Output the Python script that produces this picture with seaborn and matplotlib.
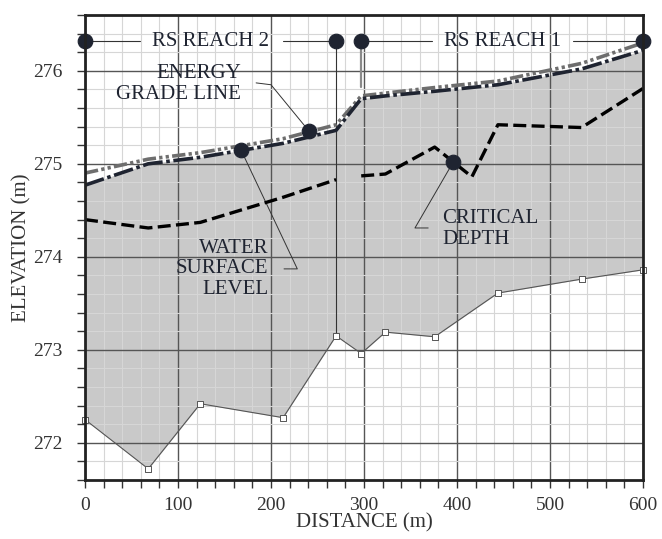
import seaborn as sns
import matplotlib.pyplot as plt
import pandas as pd
import numpy as np
from matplotlib.ticker import MultipleLocator

# cross-section stations (m) and elevations (m)
station = [0, 68, 124, 213, 270, 297, 323, 376, 444, 534, 600]
bed_elev = [272.25, 271.72, 272.42, 272.27, 273.15, 272.96, 273.19, 273.14, 273.61, 273.76, 273.86]
ws_elev = [274.77, 275.00, 275.07, 275.22, 275.36, 275.70, 275.73, 275.78, 275.85, 276.02, 276.22]
egl_elev = [274.90, 275.05, 275.12, 275.27, 275.42, 275.73, 275.76, 275.82, 275.89, 276.08, 276.30]

# critical depth is broken at the junction between the two reaches
cd_station = [0, 68, 124, 213, 270, 297, 323, 376, 416, 444, 534, 600]
cd_elev = [274.40, 274.31, 274.37, 274.64, 274.83, 274.87, 274.89, 275.18, 274.86, 275.42, 275.39, 275.81]
cd_reach = [2, 2, 2, 2, 2, 1, 1, 1, 1, 1, 1, 1]

# reach boundary markers along the top
reach_marks = [0, 270, 297, 600]
reach_labels = ["RS REACH 2", "RS REACH 1"]

profile = pd.DataFrame({"station": station, "bed": bed_elev, "ws": ws_elev, "egl": egl_elev})
cd = pd.DataFrame({"station": cd_station, "elev": cd_elev, "reach": cd_reach})

sns.set_style("white")
plt.rcParams["font.family"] = ["Liberation Serif", "DejaVu Serif"]
ink = "#1f2431"

fig = plt.figure(figsize=(6.62, 5.39), dpi=100)
ax = fig.add_axes([85 / 662, 1 - 480 / 539, 558 / 662, 465 / 539])

# flow area
ax.fill_between(profile["station"], profile["bed"], profile["ws"], color="#c9c9c9", lw=0, zorder=1)

# channel bed
sns.lineplot(data=profile, x="station", y="bed", ax=ax, color="#555555", lw=0.8, zorder=3)
sns.scatterplot(data=profile, x="station", y="bed", ax=ax, marker="s", s=14, facecolor="white",
                edgecolor="#555555", linewidth=0.7, zorder=4, clip_on=False)

# energy grade line, water surface, critical depth
sns.lineplot(data=profile, x="station", y="egl", ax=ax, color="#6e6e6e", lw=2.6,
             linestyle=(0, (3.7, 0.9, 0.9, 0.9, 0.9, 0.9)), zorder=4)
sns.lineplot(data=profile, x="station", y="ws", ax=ax, color=ink, lw=2.6,
             linestyle=(0, (5.5, 1.0, 1.0, 1.0)), zorder=5)
sns.lineplot(data=cd, x="station", y="elev", units="reach", estimator=None, ax=ax, color="black",
             lw=2.4, linestyle=(0, (3.9, 1.6)), zorder=5)

# reach boundaries
top_y = 276.32
ax.plot([270, 270], [top_y, bed_elev[4]], color="#333333", lw=0.8, zorder=3)
ax.plot([297, 297], [top_y, 275.83], color="#8a8a8a", lw=1.6, zorder=3)
sns.scatterplot(x=reach_marks, y=[top_y] * 4, ax=ax, s=110, color=ink, edgecolor=ink, zorder=6, clip_on=False)
ax.plot([0, 59], [top_y, top_y], color="#333333", lw=0.8, zorder=3)
ax.plot([213, 270], [top_y, top_y], color="#333333", lw=0.8, zorder=3)
ax.plot([297, 373], [top_y, top_y], color="#333333", lw=0.8, zorder=3)
ax.plot([525, 600], [top_y, top_y], color="#333333", lw=0.8, zorder=3)
ax.text(135, top_y, reach_labels[0], ha="center", va="center", fontsize=15, color=ink)
ax.text(449, top_y, reach_labels[1], ha="center", va="center", fontsize=15, color=ink)

# callouts
ax.plot([184, 200, 241], [275.87, 275.85, 275.35], color="#333333", lw=0.7, zorder=3)
ax.plot([167.7, 228.3, 214], [275.15, 273.87, 273.87], color="#333333", lw=0.7, zorder=3)
ax.plot([396, 354.8, 369], [275.02, 274.31, 274.31], color="#333333", lw=0.7, zorder=3)
sns.scatterplot(x=[241, 167.7, 396], y=[275.35, 275.15, 275.02], ax=ax, s=110, color=ink,
                edgecolor=ink, zorder=6)
ax.text(168, 275.86, "ENERGY\nGRADE LINE", ha="right", va="center", multialignment="right",
        fontsize=15, color=ink, linespacing=1.1)
ax.text(197, 273.87, "WATER\nSURFACE\nLEVEL", ha="right", va="center", multialignment="right",
        fontsize=15, color=ink, linespacing=1.1)
ax.text(384, 274.30, "CRITICAL\nDEPTH", ha="left", va="center", multialignment="left",
        fontsize=15, color=ink, linespacing=1.1)

ax.set_xlim(0, 600)
ax.set_ylim(271.6, 276.6)
ax.xaxis.set_major_locator(MultipleLocator(100))
ax.xaxis.set_minor_locator(MultipleLocator(20))
ax.yaxis.set_major_locator(MultipleLocator(1))
ax.yaxis.set_minor_locator(MultipleLocator(0.2))
ax.set_axisbelow(False)
ax.grid(which="major", color="#555555", lw=1.0)
ax.grid(which="minor", color="#d6d6d6", lw=0.8)
ax.tick_params(which="both", direction="out", length=6, width=1, color="#333333",
               bottom=True, left=True, labelsize=14, labelcolor="#333333")
ax.tick_params(axis="x", pad=6)
ax.tick_params(axis="y", pad=10)
for sp in ax.spines.values():
    sp.set_linewidth(2)
    sp.set_color("#222222")
    sp.set_zorder(7)

ax.set_xlabel("DISTANCE (m)", fontsize=15, color="#333333", labelpad=0)
ax.set_ylabel("ELEVATION (m)", fontsize=15, color="#333333", labelpad=1)

fig.savefig("out.png", dpi=100)
